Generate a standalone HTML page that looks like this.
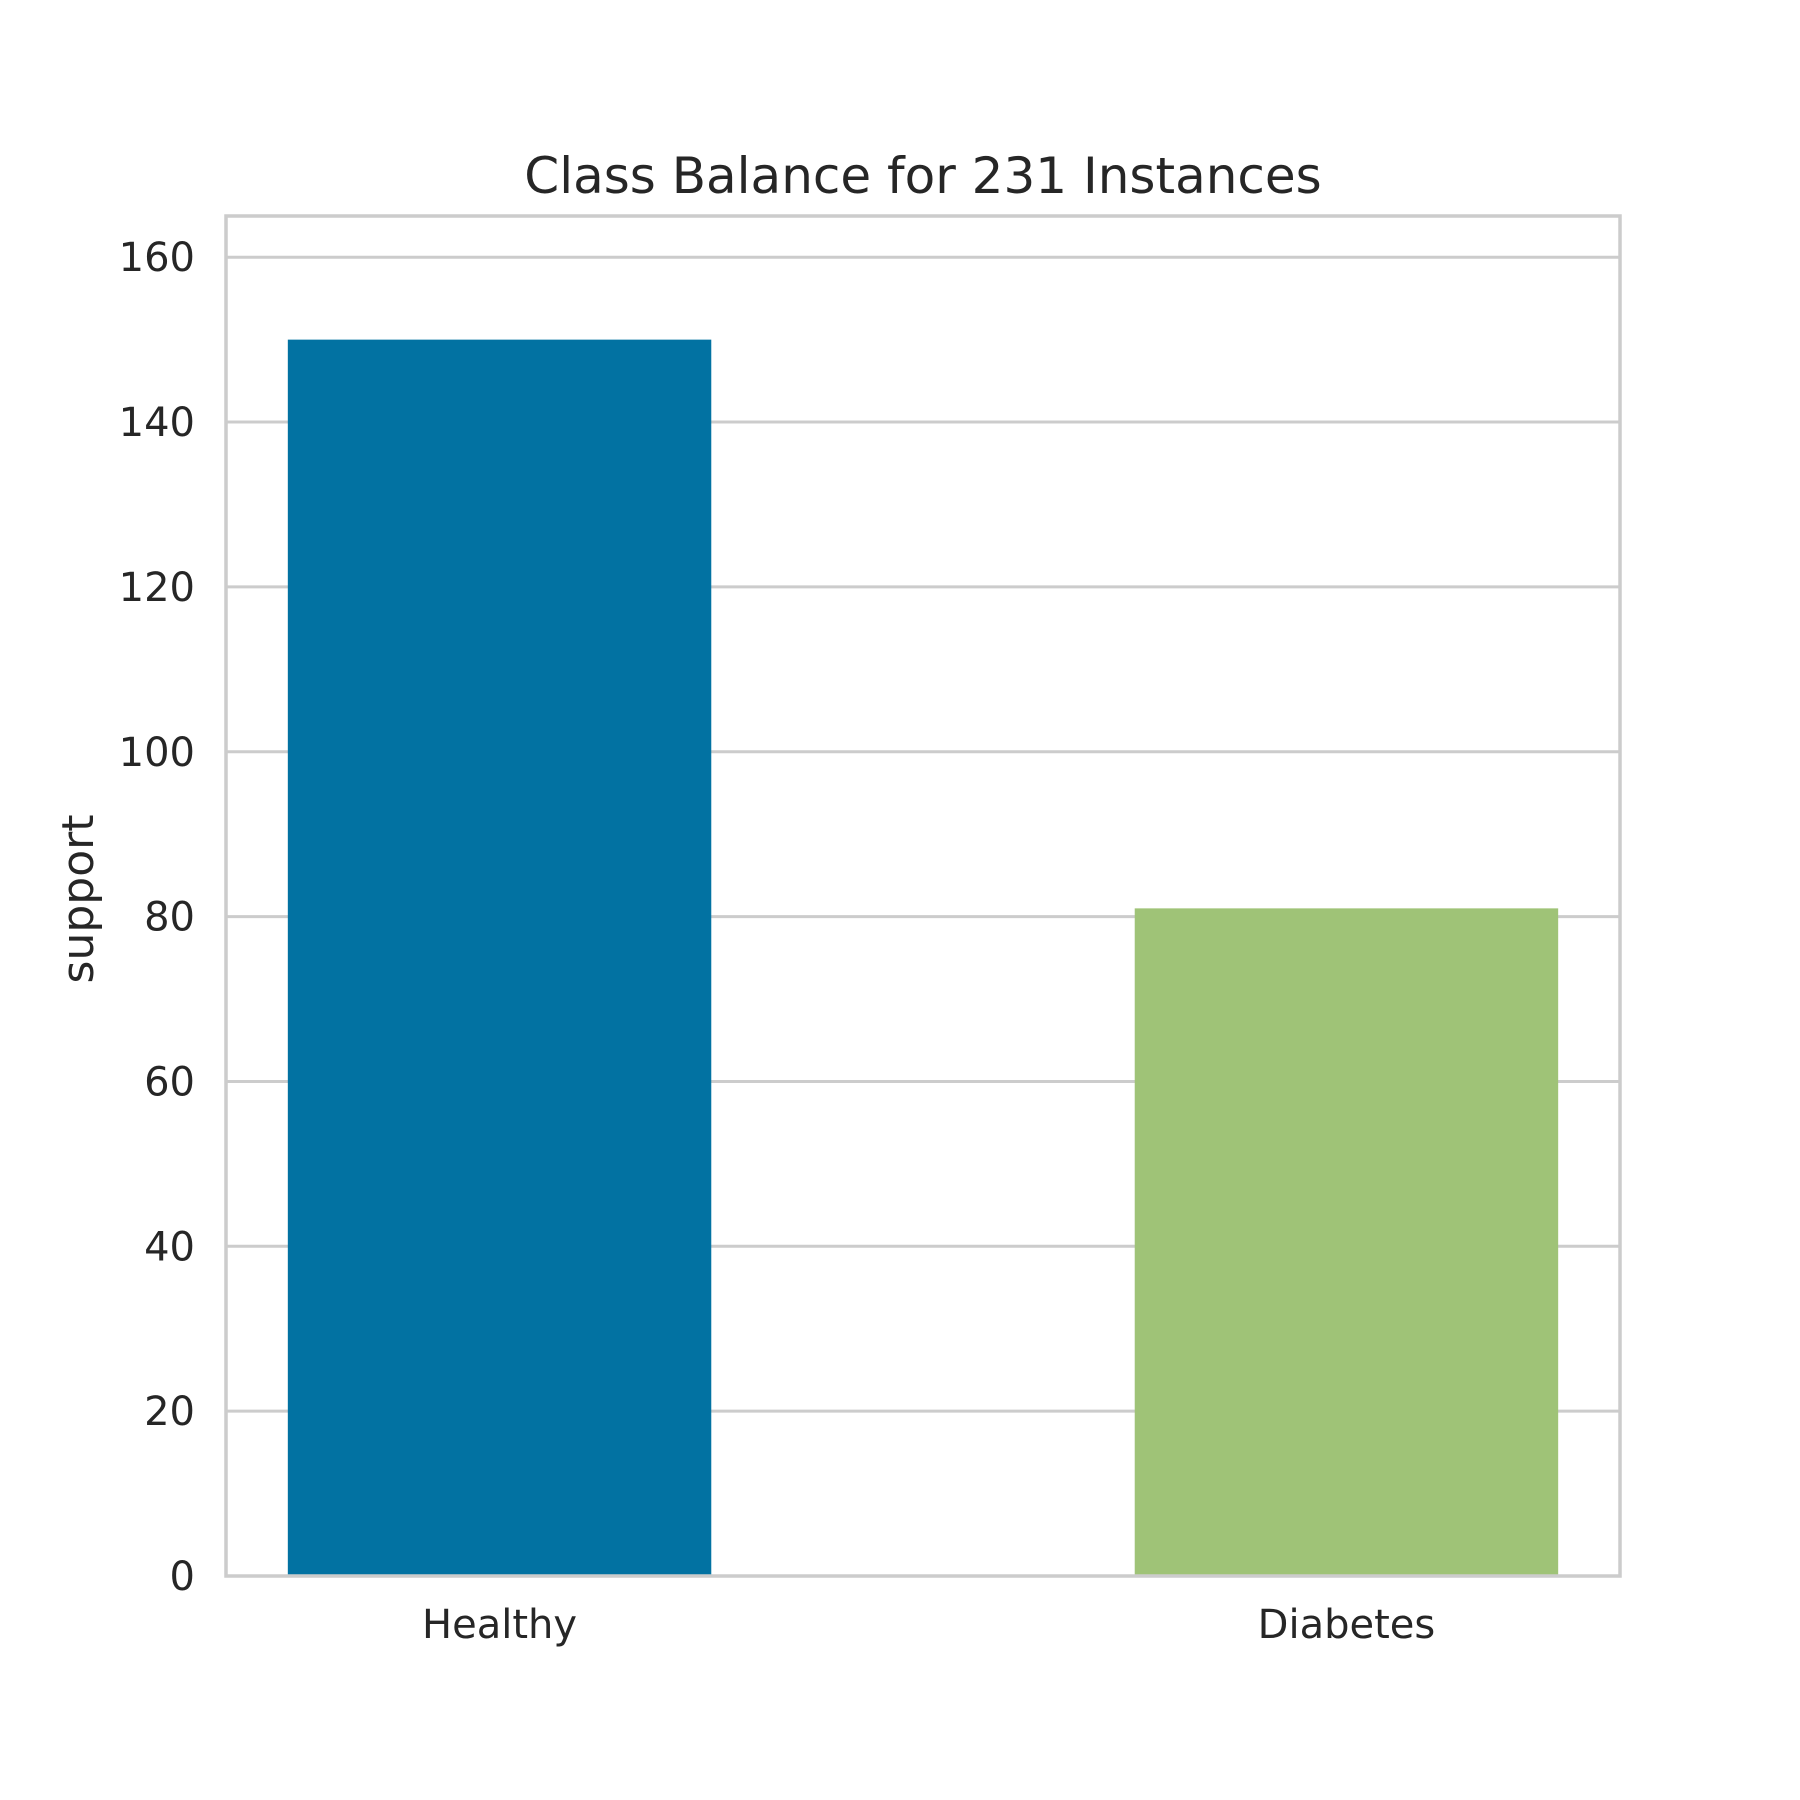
<!DOCTYPE html>
<html><head><meta charset="utf-8"><style>
html,body{margin:0;padding:0;background:#fff;}
svg{display:block;font-family:"DejaVu Sans","Liberation Sans",sans-serif;}
</style></head><body>
<svg id="chart" width="1800" height="1800" viewBox="0 0 1800 1800" xmlns="http://www.w3.org/2000/svg">
<rect width="1800" height="1800" fill="#fff"/>
<text x="923" y="193" font-size="50" fill="#262626" text-anchor="middle">Class Balance for 231 Instances</text>
<text transform="translate(93,899) rotate(-90)" font-size="44" fill="#262626" text-anchor="middle">support</text>
<g id="grid"></g>
<g id="bars"></g>
<g id="labels"></g>
<rect x="226" y="216" width="1394" height="1360" fill="none" stroke="#cccccc" stroke-width="3.5"/>
</svg>
<script>
const categories = ["Healthy", "Diabetes"];
const values = [150, 81];
const colors = ["#0272a2", "#9fc377"];
const yTicks = [0, 20, 40, 60, 80, 100, 120, 140, 160];
const ns = "http://www.w3.org/2000/svg";
const L = 226, R = 1620, T = 216, B = 1576;
const yMax = 165, xMin = -0.323, xMax = 1.323, barW = 0.5;
function y(v){ return B - (v / yMax) * (B - T); }
function x(v){ return L + (v - xMin) / (xMax - xMin) * (R - L); }
function mk(tag, attrs, parent){ const e = document.createElementNS(ns, tag); for (const k in attrs) e.setAttribute(k, attrs[k]); parent.appendChild(e); return e; }
const grid = document.getElementById("grid"), bars = document.getElementById("bars"), labels = document.getElementById("labels");
yTicks.forEach(t => {
  const ln = mk("line", {x1: L, x2: R, y1: y(t), y2: y(t), stroke: "#cccccc", "stroke-width": 3}, grid);
  
  
  const tx = mk("text", {x: L - 31, y: y(t) + 14, "font-size": 40, fill: "#262626", "text-anchor": "end"}, labels);
  tx.textContent = t;
  
  
});
categories.forEach((c, i) => {
  const r = mk("rect", {x: x(i - barW / 2), y: y(values[i]), width: x(i + barW / 2) - x(i - barW / 2), height: y(0) - y(values[i]), fill: colors[i]}, bars);
  
  
  const tx = mk("text", {x: x(i), y: 1638, "font-size": 40, fill: "#262626", "text-anchor": "middle"}, labels);
  tx.textContent = c;
  
  
});
</script>
</body></html>
